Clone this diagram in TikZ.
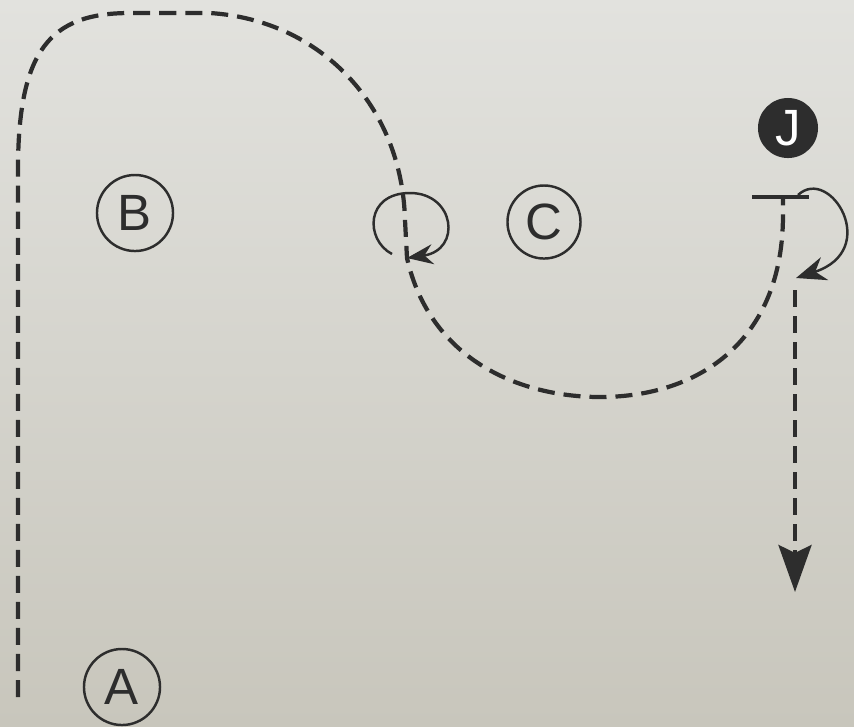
\documentclass[tikz,border=0pt]{standalone}
\usepackage{fontspec}
\setmainfont{Liberation Sans}
\usepackage{xcolor}
\usetikzlibrary{arrows.meta, positioning}
\definecolor{ink}{RGB}{45,45,45}
\definecolor{papertop}{RGB}{226,226,222}
\definecolor{paperbot}{RGB}{200,198,188}

\begin{document}
\begin{tikzpicture}[x=0.01cm, y=-0.01cm,
    spot/.style={circle, draw=ink, line width=0.7pt, inner sep=0pt, minimum size=0.74cm,
      text=ink, font=\fontsize{14.5}{16}\selectfont},
    route/.style={draw=ink, line width=1.2pt, dash pattern=on 0.17cm off 0.09cm},
    turn/.style={draw=ink, line width=0.7pt}]
        \useasboundingbox (0,0) rectangle (854,726);
        \shade[top color=papertop, bottom color=paperbot] (0,0) rectangle (854,726);

        \node[spot, minimum size=0.76cm] (A) at (122,687) {A};
        \node[spot, minimum size=0.76cm] (B) at (135,213) {B};
        \node[spot, minimum size=0.73cm] (C) at (544,222) {C};
        \node[circle, fill=ink, inner sep=0pt, minimum size=0.6cm, text=white,
              font=\fontsize{14.5}{16}\selectfont] (J) at (788,128) {J};

        \coordinate (start) at (18,697);
        \coordinate (pivot) at (407,258);
        \coordinate (stop) at (783,197);
        \coordinate (exit) at (796,278);
        \coordinate (goal) at (795,592);

        \draw[ink, line width=1.1pt] (752,197) -- (809,197);

        \draw[route] (start) -- (18,170) .. controls (18,50) and (50,13) .. (130,13)
            -- (210,13) .. controls (320,20) and (402,105) .. (405,220) -- (pivot)
            .. controls (430,360) and (520,397) .. (600,397)
            .. controls (700,397) and (783,340) .. (783,215) -- (stop);

        \draw[turn, -{Stealth[length=0.26cm, width=0.2cm]}] (392,254)
            .. controls (365,240) and (365,193) .. (410,193)
            .. controls (455,193) and (462,250) .. (pivot);
        \draw[turn, -{Stealth[length=0.3cm, width=0.24cm]}] (798,195)
            .. controls (830,165) and (882,250) .. (exit);

        \draw[route, -{Stealth[length=0.47cm, width=0.33cm, inset=0.08cm]}] (795,290) -- (goal);
    \end{tikzpicture}
\end{document}
